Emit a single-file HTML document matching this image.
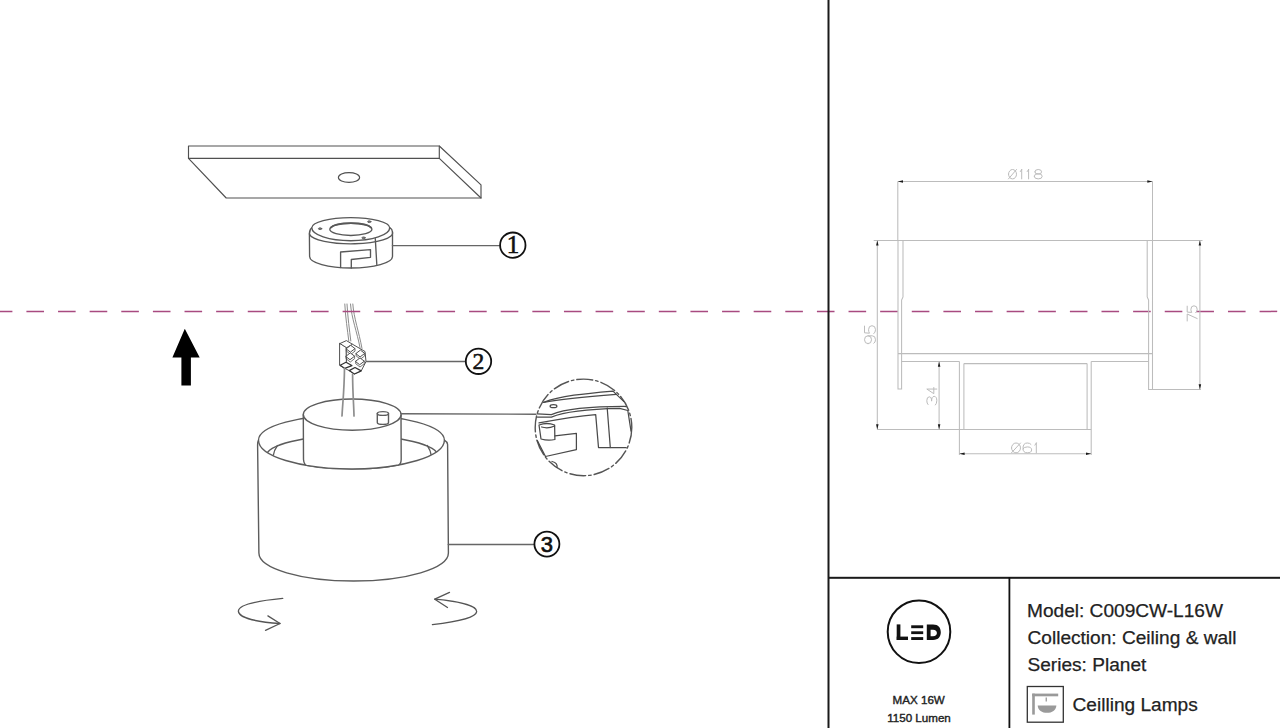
<!DOCTYPE html>
<html><head><meta charset="utf-8">
<style>
html,body{margin:0;padding:0;background:#fff;}
body{width:1280px;height:728px;overflow:hidden;position:relative;font-family:"Liberation Sans",sans-serif;}
svg{position:absolute;left:0;top:0;}
</style></head>
<body>
<svg width="1280" height="728" viewBox="0 0 1280 728">
<rect x="0" y="0" width="1280" height="728" fill="#fff"/>

<!-- ===== LEFT: exploded view ===== -->
<g fill="none" stroke="#5c5c5c" stroke-width="1.4" stroke-linejoin="round" stroke-linecap="round">
  <!-- ceiling plate -->
  <g stroke-width="1.15" stroke="#505050">
  <path d="M188.5,146 L439.3,146 L481,184.8 L481,198 L226.2,198 L188.5,158.4 Z"/>
  <path d="M188.5,158.4 L439.3,158.4 L481,198"/>
  <path d="M439.3,146 L439.3,158.4"/>
  <ellipse cx="349" cy="177.5" rx="10.6" ry="4.9"/>
  </g>

  <!-- ring (1) -->
  <g stroke="#585858" stroke-width="1.35">
  <path d="M311.8,227.7 Q309.4,229.5 309.4,234 L309.6,256.4 A41.45,11.6 0 0 0 392.5,256.4 L392.5,232 Q392.3,229 389.7,227.7" fill="#fff"/>
  <path d="M311.8,227.7 A38.95,10 0 0 1 389.7,227.7 A38.95,13 0 0 1 311.8,227.7 Z" fill="#fff"/>
  <path d="M309.4,234 A41.55,10.8 0 0 0 392.5,232"/>
  <ellipse cx="350.85" cy="229.35" rx="21.05" ry="6.15"/>
  <path d="M331,227.5 A20.5,5.6 0 0 1 371,227.5" stroke-width="1.9"/>
  <path d="M340.6,267.5 L340.6,252 L370.5,249.6 L370.5,257.3 L351.3,259.5 L351.3,268"/>
  <path d="M375.3,238.6 L376.8,264.5"/>
  <ellipse cx="320.1" cy="228.7" rx="1.7" ry="0.9" fill="#777" stroke-width="0.8"/>
  <ellipse cx="369.3" cy="221.7" rx="1.7" ry="0.9" fill="#777" stroke-width="0.8"/>
  <ellipse cx="363.6" cy="237.8" rx="1.7" ry="0.9" fill="#777" stroke-width="0.8"/>
  </g>
  <!-- leader 1 -->
  <path d="M392.4,245.6 L499.3,245.6" stroke="#666"/>

  <!-- wires above -->
  <g stroke="#8c8c8c" stroke-width="1">
    <path d="M344.8,304 C345.5,318 347.5,330 348.8,341"/>
    <path d="M347,304 C347.8,318 349.5,330 350.8,341"/>
    <path d="M350.5,304 C351.5,318 357,332 360,347.5"/>
    <path d="M352.8,304 C353.8,318 359,332 362,348.5"/>
  </g>
  <!-- connector block (2) -->
  <g stroke="#505050" stroke-width="1" fill="#fff">
    <path d="M339.6,343.7 L346.4,340.6 L352.6,344.3 L346.4,348 Z"/>
    <path d="M339.6,343.7 L339.6,365.3 L344.8,368.4 L346.4,362 L346.4,348 Z"/>
    <path d="M346.4,348 L352.6,344.3 L365,351.5 L366,361.6 L361.2,370.9 L354.4,374 L349.2,370.6 L344.8,368.4 L346.4,362 Z"/>
    <path d="M346.4,348.6 L350.7,345.3 L355.0,348.6 L350.7,351.9 Z"/>
    <path d="M346.4,348.6 L346.4,351.1 L350.7,354.4 L355.0,351.1 L355.0,348.6" fill="none" stroke-width="0.8"/>
    <path d="M356.1,353.4 L360.4,350.1 L364.7,353.4 L360.4,356.7 Z"/>
    <path d="M356.1,353.4 L356.1,355.9 L360.4,359.2 L364.7,355.9 L364.7,353.4" fill="none" stroke-width="0.8"/>
    <path d="M346.0,356.2 L350.3,352.9 L354.6,356.2 L350.3,359.5 Z"/>
    <path d="M346.0,356.2 L346.0,358.7 L350.3,362.0 L354.6,358.7 L354.6,356.2" fill="none" stroke-width="0.8"/>
    <path d="M355.7,361.2 L360.0,357.9 L364.3,361.2 L360.0,364.5 Z"/>
    <path d="M355.7,361.2 L355.7,363.7 L360.0,367.0 L364.3,363.7 L364.3,361.2" fill="none" stroke-width="0.8"/>
    <path d="M340.2,365.3 L346,362.2 L351.9,365.6 L344.8,368.4 Z" stroke="#333" stroke-width="1.2"/>
    <path d="M349.2,370.6 L355,367.5 L361.2,370.9 L354.4,374 Z" stroke="#333" stroke-width="1.2"/>
  </g>
  <!-- leader 2 -->
  <path d="M366.4,361.5 L465,361.5" stroke="#666"/>

  <!-- lamp body (3) -->
  <path d="M258.6,440.2 Q257.6,441.5 257.6,445 L258.9,553 A94.75,28 0 0 0 448.4,553 L447.6,444.5 Q447.3,441.8 444.4,440.2" fill="#fff"/>
  <path d="M258.5,440.2 A92.95,25.5 0 0 1 444.4,440.2 A92.95,28.7 0 0 1 258.5,440.2 Z" fill="#fff"/>
  <clipPath id="rimclip"><path d="M258.6,440.2 A92.85,25.4 0 0 1 444.3,440.2 A92.85,28.6 0 0 1 258.6,440.2 Z"/></clipPath>
  <ellipse cx="352.15" cy="456.3" rx="86" ry="21" clip-path="url(#rimclip)"/>
  <path d="M277.4,445.6 Q274,450 273,456.5" clip-path="url(#rimclip)"/>
  <path d="M427.3,445.6 Q430.5,450 431.4,455.8" clip-path="url(#rimclip)"/>
  <!-- inner cylinder -->
  <path d="M303.3,414.6 L303.5,459.5 Q304,464.5 306.5,465.4 A92.95,28.7 0 0 0 398.5,465 Q401,464 401.2,459.5 L401,414.6" fill="#fff"/>
  <ellipse cx="352.2" cy="414.6" rx="48.9" ry="15.6" fill="#fff"/>
  <!-- peg -->
  <path d="M377.3,413.5 L377.3,422.5 A5.6,1.9 0 0 0 388.5,422.5 L388.5,413.5" fill="#fff"/>
  <ellipse cx="382.9" cy="413.5" rx="5.6" ry="1.9" fill="#fff"/>
  <!-- wires below -->
  <g stroke="#8e8e8e" stroke-width="1.7">
    <path d="M344.5,368 C344.3,390 342.5,405 342,416"/>
    <path d="M352.6,374 C352.6,392 353.8,405 354,416"/>
  </g>
  <!-- leader to detail -->
  <path d="M401,413.8 L536,414.2" stroke="#666"/>
  <!-- leader 3 -->
  <path d="M448.3,544.5 L533.5,544.5" stroke="#666"/>

  <!-- detail circle -->
  <circle cx="583.5" cy="427.4" r="48.3" stroke="#555" stroke-dasharray="16 3 2.5 3"/>
  <g stroke="#4a4a4a" stroke-width="1.25">
    <path d="M543.6,402.3 C560,396 585,393.5 613,391.1 L623.7,401.4"/>
    <path d="M543.6,402.3 C560,399.5 585,397 616.3,394.4"/>
    <ellipse cx="553.5" cy="406.2" rx="3.4" ry="1.5"/>
    <path d="M537.4,413.8 L551.4,414.6 C565,409 590,406.4 626.2,406.5"/>
    <path d="M537.4,417.1 L551.4,417.1 C565,411.5 590,409 619.6,408.4 L627.8,410.5 L631,431"/>
    <path d="M539,422.9 C560,419 580,416 595.7,414.6 L598.5,447.5 L626.2,447.5"/>
    <path d="M607.2,408 L610.3,447.5"/>
    <path d="M539,425 L541,439 Q548,441 554.9,439.5 L554.6,425 Q547,422 539,425 Z" fill="#fff"/>
    <path d="M541.6,427 Q548,429 554.6,426"/>
    <path d="M554.9,435.9 L576.4,433.3 L576.4,449.6 L545.5,456.5 L537.3,440.6"/>
    <path d="M552,461.5 Q558,463 557,467.5"/>
  </g>

  <!-- rotation arrows -->
  <g stroke="#555" stroke-width="1.3">
    <path d="M282.7,598.4 C255,601 238,605 238.4,611.4 C239,618 258,622 280,623.5"/>
    <path d="M267.9,615.9 L280,623.5 L265.5,630.3"/>
    <path d="M434.8,599.2 C455,601 477,605 476.7,611.6 C476,618 455,622 432.4,624.6"/>
    <path d="M449.5,592.4 L434.8,599.2 L447.5,607.5"/>
  </g>
</g>

<!-- up arrow -->
<path d="M184.8,328.8 L199.7,357.6 L190.9,357.6 L190.9,385.5 L181.4,385.5 L181.4,357.6 L172.4,357.6 Z" fill="#000"/>

<!-- callout circles -->
<g fill="none" stroke="#111" stroke-width="1.8">
  <circle cx="512.8" cy="245.2" r="12.7"/>
  <circle cx="478.5" cy="361.3" r="12.7"/>
  <circle cx="546.9" cy="544.1" r="12.5"/>
</g>
<g fill="#111" stroke="#111" stroke-width="0.6" font-family="Liberation Serif" text-anchor="middle">
  <text x="513" y="253.3" font-size="25">1</text>
  <text x="478.4" y="368.7" font-size="23.5">2</text>
</g>
<text x="546.9" y="552.3" font-size="22" stroke="#111" stroke-width="0.7" font-family="Liberation Sans" text-anchor="middle" fill="#111">3</text>

<!-- red center dashed line -->
<line x1="0" y1="311.4" x2="1280" y2="311.4" stroke="#a84a80" stroke-width="1.5" stroke-dasharray="17.6 14.02" stroke-dashoffset="5.2"/>

<!-- ===== RIGHT: dimension drawing ===== -->
<g fill="none" stroke="#bcbcbc" stroke-width="1.05">
  <path d="M897.8,181.5 L897.8,240.4"/>
  <path d="M1152.5,181.5 L1152.5,240.4"/>
  <path d="M897.8,181.5 L1152.5,181.5"/>
  <path d="M873.7,240.4 L1202.5,240.4"/>
  <!-- left wall -->
  <path d="M898,240.4 L898,389 L901.6,389 L901.6,300 L903,297 L903,240.4"/>
  <!-- right wall -->
  <path d="M1152.5,240.4 L1152.5,389.4 L1148.6,389.4 L1148.6,300 L1147.2,297 L1147.2,240.4"/>
  <!-- shelf -->
  <path d="M898,353.6 L1152.5,353.6"/>
  <path d="M901.6,361.5 L959.4,361.5 M1091.2,361.5 L1148.6,361.5"/>
  <!-- tube -->
  <path d="M959.4,361.5 L959.4,455"/>
  <path d="M1091.2,361.5 L1091.2,455"/>
  <path d="M963.9,363.6 L963.9,429.5 M1087.1,363.6 L1087.1,429.5 M963.9,363.6 L1087.1,363.6"/>
  <path d="M877.3,429.4 L1091.2,429.4"/>
  <!-- dims -->
  <path d="M877.3,240.4 L877.3,429.4"/>
  <path d="M939.1,361.5 L939.1,429.4"/>
  <path d="M959.4,453.7 L1091.2,453.7"/>
  <path d="M1199.9,240.4 L1199.9,389.4"/>
  <path d="M1148.6,389.4 L1201,389.4"/>
</g>
<!-- arrowheads -->
<g fill="#1a1a1a">
  <path d="M897.8,181.5 L903.00,180.25 L903.00,182.75 Z"/>
  <path d="M1152.5,181.5 L1147.30,182.75 L1147.30,180.25 Z"/>
  <path d="M877.3,240.4 L878.55,245.60 L876.05,245.60 Z"/>
  <path d="M877.3,429.4 L876.05,424.20 L878.55,424.20 Z"/>
  <path d="M939.1,361.5 L940.35,366.70 L937.85,366.70 Z"/>
  <path d="M939.1,429.4 L937.85,424.20 L940.35,424.20 Z"/>
  <path d="M959.4,453.7 L964.60,452.45 L964.60,454.95 Z"/>
  <path d="M1091.2,453.7 L1086.00,454.95 L1086.00,452.45 Z"/>
  <path d="M1199.9,240.4 L1201.15,245.60 L1198.65,245.60 Z"/>
  <path d="M1199.9,389.4 L1198.65,384.20 L1201.15,384.20 Z"/>
</g>
<g fill="none" stroke="#bcbcbc" stroke-width="1" stroke-linecap="round" stroke-linejoin="round">
  <path d="M1008.50,174.20 A4.00,4.70 0 1 0 1016.50,174.20 A4.00,4.70 0 1 0 1008.50,174.20 M1008.50,178.90 L1016.50,169.50 M1021.70,169.50 L1021.70,178.90 M1020.30,171.57 L1021.70,169.50 M1028.60,169.50 L1028.60,178.90 M1027.20,171.57 L1028.60,169.50 M1034.84,171.85 A3.36,2.35 0 1 0 1041.56,171.85 A3.36,2.35 0 1 0 1034.84,171.85 M1034.20,176.27 A4.00,2.63 0 1 0 1042.20,176.27 A4.00,2.63 0 1 0 1034.20,176.27 M1011.50,447.90 A4.50,4.90 0 1 0 1020.50,447.90 A4.50,4.90 0 1 0 1011.50,447.90 M1011.50,452.80 L1020.50,443.00 M1030.91,444.27 Q1029.88,443.00 1027.30,443.00 Q1023.00,443.00 1023.00,448.39 Q1023.00,452.80 1027.30,452.80 Q1031.60,452.80 1031.60,449.86 Q1031.60,446.92 1027.30,446.92 Q1023.86,446.92 1023.00,448.88 M1036.30,443.00 L1036.30,452.80 M1034.90,445.16 L1036.30,443.00"/>
  <path transform="translate(864.5,343.7) rotate(-90)" d="M0.00,3.52 A3.95,3.52 0 1 0 7.90,3.52 A3.95,3.52 0 1 0 0.00,3.52 M7.90,3.52 L7.90,7.70 Q7.90,11.00 3.95,11.00 Q1.19,11.00 0.40,9.35 M17.61,0.00 L10.89,0.00 L10.49,4.95 Q12.07,4.07 14.05,4.07 Q18.00,4.07 18.00,7.48 Q18.00,11.00 14.05,11.00 Q11.29,11.00 10.10,9.35"/>
  <path transform="translate(926.8,405.0) rotate(-90)" d="M0.43,1.20 Q1.72,0.00 4.30,0.00 Q8.17,0.00 8.17,2.50 Q8.17,4.80 3.87,4.80 Q8.60,4.80 8.60,7.40 Q8.60,10.00 4.30,10.00 Q1.29,10.00 0.00,8.60 M15.95,10.00 L15.95,0.00 L11.30,7.00 L17.50,7.00"/>
  <path transform="translate(1187.2,321.0) rotate(-90)" d="M0.00,0.00 L7.00,0.00 L2.45,10.00 M14.85,0.00 L8.90,0.00 L8.55,4.50 Q9.95,3.70 11.70,3.70 Q15.20,3.70 15.20,6.80 Q15.20,10.00 11.70,10.00 Q9.25,10.00 8.20,8.50"/>
</g>

<!-- ===== frame lines ===== -->
<rect x="827.5" y="0" width="2" height="728" fill="#1a1a1a"/>
<rect x="828" y="576.8" width="452" height="2" fill="#1a1a1a"/>
<rect x="1008.5" y="577" width="1.8" height="151" fill="#111"/>

<!-- LED logo -->
<circle cx="919" cy="631.7" r="31.3" fill="none" stroke="#111" stroke-width="2"/>
<g fill="#111">
  <rect x="896.7" y="624.4" width="3.7" height="15.6"/>
  <rect x="896.7" y="636.6" width="11.3" height="3.4"/>
  <rect x="911.2" y="625.3" width="12" height="2.9"/>
  <rect x="911.2" y="631.3" width="12" height="2.8"/>
  <rect x="911.2" y="637.1" width="12" height="2.9"/>
  <path fill-rule="evenodd" d="M926.8,624.6 L933,624.6 C938.5,624.6 940.8,628 940.8,632.3 C940.8,636.6 938.5,640 933,640 L926.8,640 Z M930.6,629.7 L930.6,636.2 L933,636.2 C935.6,636.2 936.9,634.6 936.9,632.9 C936.9,631.2 935.6,629.7 933,629.7 Z"/>
</g>
<g fill="#222" stroke="#222" stroke-width="0.4" font-family="Liberation Sans" text-anchor="middle" font-size="11.6">
  <text x="918.7" y="703.8">MAX 16W</text>
  <text x="919" y="721.9">1150 Lumen</text>
</g>

<!-- info text -->
<g fill="#222" stroke="#222" stroke-width="0.25" font-family="Liberation Sans" font-size="19.1">
  <text x="1027" y="617.1">Model: C009CW-L16W</text>
  <text x="1027.5" y="644.2">Collection: Ceiling &amp; wall</text>
  <text x="1027.5" y="671.1">Series: Planet</text>
  <text x="1072.5" y="711.3">Ceilling Lamps</text>
</g>
<!-- category icon -->
<rect x="1027.3" y="686.5" width="36" height="35.7" fill="none" stroke="#333" stroke-width="1.3"/>
<g fill="#9a9a9a">
  <rect x="1032.2" y="693.6" width="2.6" height="21"/>
  <rect x="1032.2" y="693.6" width="26" height="2.7"/>
  <rect x="1045.6" y="697.5" width="1.3" height="4"/>
  <path d="M1037.7,705.4 L1056.4,705.4 C1056,710.5 1052,712.7 1047,712.7 C1042,712.7 1038,710.5 1037.7,705.4 Z"/>
</g>
</svg>
</body></html>
